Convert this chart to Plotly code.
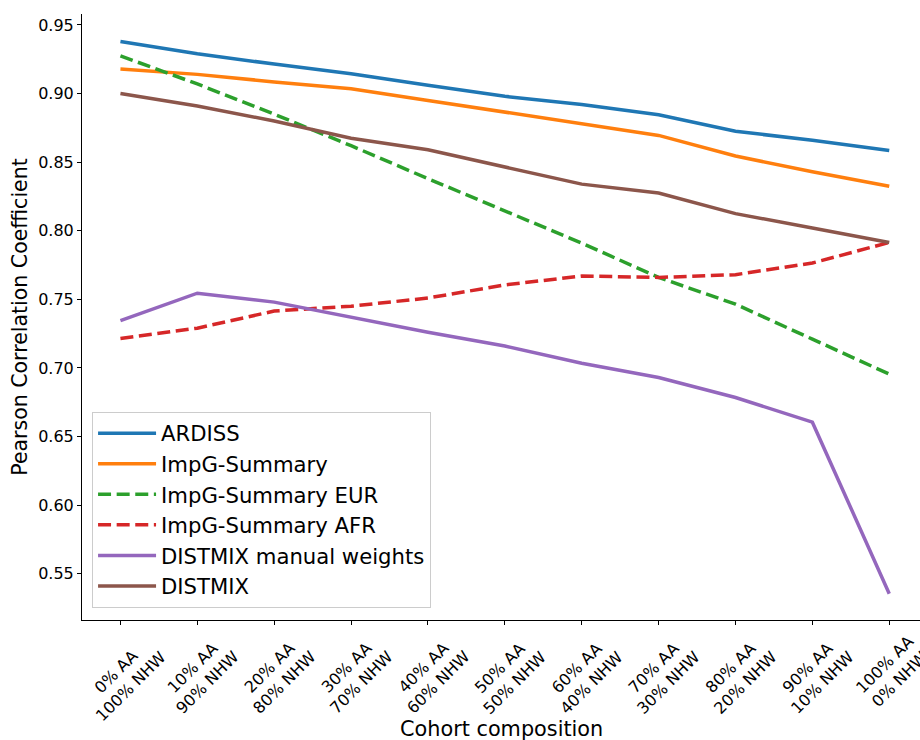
import plotly.graph_objects as go

categories = ["0% AA<br>100% NHW", "10% AA<br>90% NHW", "20% AA<br>80% NHW", "30% AA<br>70% NHW",
              "40% AA<br>60% NHW", "50% AA<br>50% NHW", "60% AA<br>40% NHW", "70% AA<br>30% NHW",
              "80% AA<br>20% NHW", "90% AA<br>10% NHW", "100% AA<br>0% NHW"]
x_pos = list(range(len(categories)))

ardiss = [0.938, 0.929, 0.9215, 0.9145, 0.906, 0.898, 0.892, 0.8845, 0.8725, 0.866, 0.8585]
impg = [0.918, 0.914, 0.9085, 0.9035, 0.895, 0.8865, 0.878, 0.8695, 0.8545, 0.843, 0.8325]
impg_eur = [0.9275, 0.907, 0.885, 0.862, 0.838, 0.8145, 0.791, 0.766, 0.7465, 0.721, 0.6955]
impg_afr = [0.7215, 0.729, 0.7415, 0.745, 0.751, 0.7605, 0.767, 0.766, 0.768, 0.7765, 0.7915]
distmix_manual = [0.7345, 0.7545, 0.748, 0.737, 0.726, 0.716, 0.7035, 0.693, 0.6785, 0.6605, 0.5355]
distmix = [0.900, 0.891, 0.880, 0.8675, 0.859, 0.8465, 0.834, 0.8275, 0.8125, 0.802, 0.7915]

series = [
    ("ARDISS", ardiss, "#1f77b4", "solid"),
    ("ImpG-Summary", impg, "#ff7f0e", "solid"),
    ("ImpG-Summary EUR", impg_eur, "#2ca02c", "13px,5.6px"),
    ("ImpG-Summary AFR", impg_afr, "#d62728", "13px,5.6px"),
    ("DISTMIX manual weights", distmix_manual, "#9467bd", "solid"),
    ("DISTMIX", distmix, "#8c564b", "solid"),
]

fig = go.Figure()
for name, vals, color, dash in series:
    fig.add_trace(go.Scatter(x=x_pos, y=vals, mode="lines", name=name,
                             line=dict(color=color, width=3.5, dash=dash)))

font = "DejaVu Sans, sans-serif"

annotations = []
for i, lab in enumerate(categories):
    annotations.append(dict(x=i + 0.04, y=-0.016, xref="x", yref="paper", text=lab, showarrow=False,
                            textangle=-45, xanchor="center", yanchor="top",
                            font=dict(family=font, size=16, color="black")))
annotations.append(dict(x=0.5, y=-0.156, xref="paper", yref="paper", text="Cohort composition",
                        showarrow=False, xanchor="center", yanchor="top",
                        font=dict(family=font, size=20.8, color="black")))

fig.update_layout(
    width=920, height=740,
    margin=dict(l=82, r=0, t=14, b=120),
    plot_bgcolor="white", paper_bgcolor="white",
    font=dict(family=font, size=16, color="black"),
    showlegend=True,
    legend=dict(x=0.012, y=0.02, xanchor="left", yanchor="bottom",
                bgcolor="rgba(255,255,255,0.8)", bordercolor="#cccccc", borderwidth=1,
                font=dict(family=font, size=21.2), itemwidth=58),
    annotations=annotations,
)
fig.update_xaxes(range=[-0.5, 10.4], tickvals=x_pos, ticktext=[""] * len(x_pos),
                 showgrid=False, zeroline=False, showline=True, linecolor="black", linewidth=1,
                 ticks="outside", ticklen=4, tickcolor="black")
fig.update_yaxes(range=[0.5163, 0.958], tickvals=[0.55, 0.60, 0.65, 0.70, 0.75, 0.80, 0.85, 0.90, 0.95],
                 tickformat=".2f", showgrid=False, zeroline=False, showline=True, linecolor="black",
                 linewidth=1, ticks="outside", ticklen=4, tickcolor="black",
                 title=dict(text="Pearson Correlation Coefficient", font=dict(family=font, size=20.5), standoff=4),
                 tickfont=dict(family=font, size=16))

fig.write_html("out.html")
